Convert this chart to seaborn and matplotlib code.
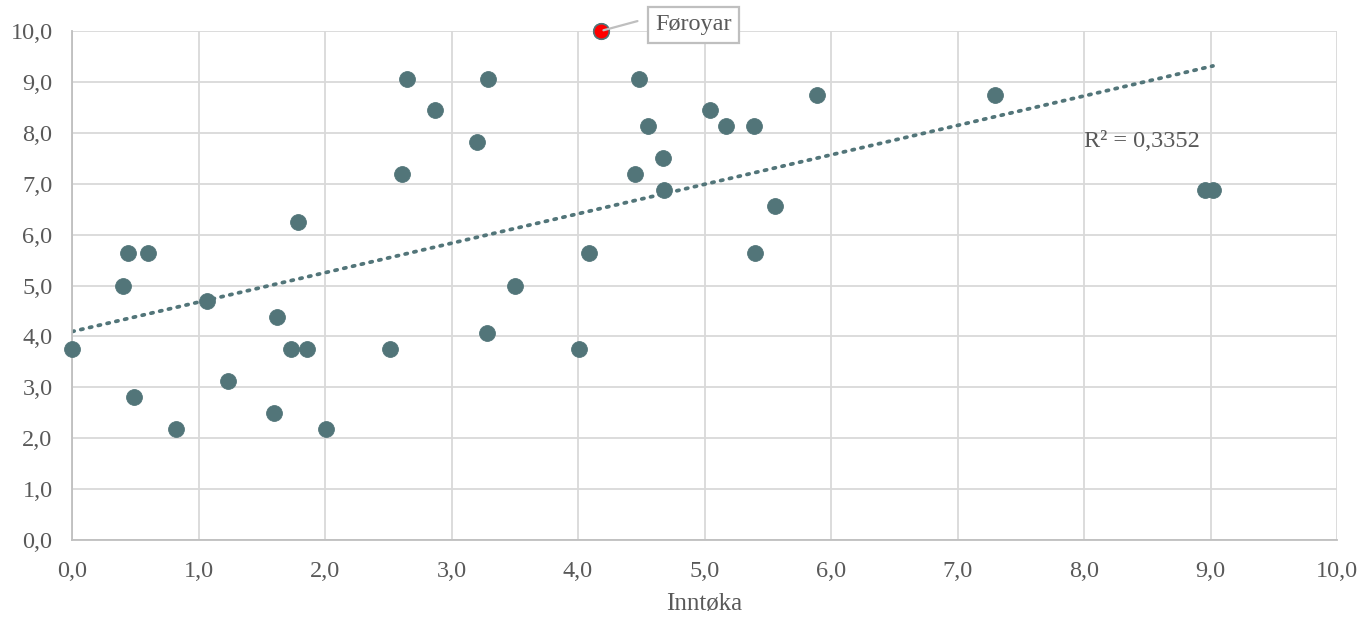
import numpy as np
import pandas as pd
import matplotlib
matplotlib.use("Agg")
import matplotlib.pyplot as plt
import seaborn as sns

# values
inntoka = [0.00, 0.40, 0.44, 0.60, 0.49, 0.82, 1.07, 1.23, 1.60, 1.62,
           1.73, 1.79, 1.86, 2.01, 2.51, 2.61, 2.65, 2.87, 3.20, 3.28,
           3.29, 3.50, 4.01, 4.09, 4.18, 4.45, 4.48, 4.55, 4.67, 4.68,
           5.04, 5.17, 5.39, 5.40, 5.56, 5.89, 7.30, 8.96, 9.02]
score = [3.75, 5.00, 5.63, 5.63, 2.81, 2.19, 4.69, 3.13, 2.50, 4.38,
         3.75, 6.25, 3.75, 2.19, 3.75, 7.19, 9.06, 8.44, 7.81, 4.06,
         9.06, 5.00, 3.75, 5.63, 10.00, 7.19, 9.06, 8.13, 7.50, 6.88,
         8.44, 8.13, 8.13, 5.63, 6.56, 8.75, 8.75, 6.88, 6.88]
highlight = "Føroyar"
highlight_idx = 24
r2_label = "R² = 0,3352"
x_label = "Inntøka"

df = pd.DataFrame({"x": inntoka, "y": score})

sns.set_theme(style="white")
plt.rcParams["font.family"] = ["Liberation Serif", "DejaVu Serif"]

teal = "#527579"
grey_txt = "#595959"
fs = 17.5

fig = plt.figure(figsize=(13.61, 6.17), dpi=100)
ax = fig.add_axes([72 / 1361, 77 / 617, 1265 / 1361, 509 / 617])

# trend line from a least-squares fit
slope, icpt = np.polyfit(df["x"], df["y"], 1)
xs = np.array([0, df["x"].max()])
ax.plot(xs, icpt + slope * xs, linestyle=(0, (0.6, 1.8)), color=teal, lw=2.7,
        dash_capstyle="round", zorder=2)

sns.scatterplot(data=df, x="x", y="y", ax=ax, color=teal, s=130,
                edgecolor=teal, linewidth=0.6, zorder=3, legend=False, clip_on=False)
hx, hy = inntoka[highlight_idx], score[highlight_idx]
ax.scatter([hx], [hy], s=125, color="red", edgecolor=teal, linewidth=1.2,
           zorder=4, clip_on=False)

ax.annotate(highlight, xy=(hx, hy), xytext=(39, 4.5), textcoords="offset points",
            fontsize=fs, color=grey_txt, va="center", ha="left",
            bbox=dict(boxstyle="square,pad=0.3", fc="white", ec="#BFBFBF", lw=1.6),
            arrowprops=dict(arrowstyle="-", color="#BFBFBF", lw=1.6,
                            relpos=(0, 0.9), shrinkA=7, shrinkB=2),
            annotation_clip=False, zorder=5)

ax.text(8.0, 7.82, r2_label, fontsize=fs, color=grey_txt, va="center", ha="left")

ax.set_xlim(0, 10)
ax.set_ylim(0, 10)
ticks = np.arange(0, 11, 1)
ax.set_xticks(ticks)
ax.set_yticks(ticks)
ax.set_xticklabels([f"{t:.1f}".replace(".", ",") for t in ticks])
ax.set_yticklabels([f"{t:.1f}".replace(".", ",") for t in ticks])
ax.tick_params(labelsize=fs, colors=grey_txt, length=0)
ax.tick_params(axis="x", pad=15)
ax.tick_params(axis="y", pad=14)
ax.grid(True, color="#D9D9D9", lw=1.3)
ax.set_axisbelow(True)
for side in ["top", "right"]:
    ax.spines[side].set_visible(False)
for side in ["left", "bottom"]:
    ax.spines[side].set_color("#BFBFBF")
    ax.spines[side].set_linewidth(1.3)
ax.set_xlabel(x_label, fontsize=18, color=grey_txt, labelpad=8)
ax.set_ylabel("")

fig.savefig("out.png", dpi=100)
